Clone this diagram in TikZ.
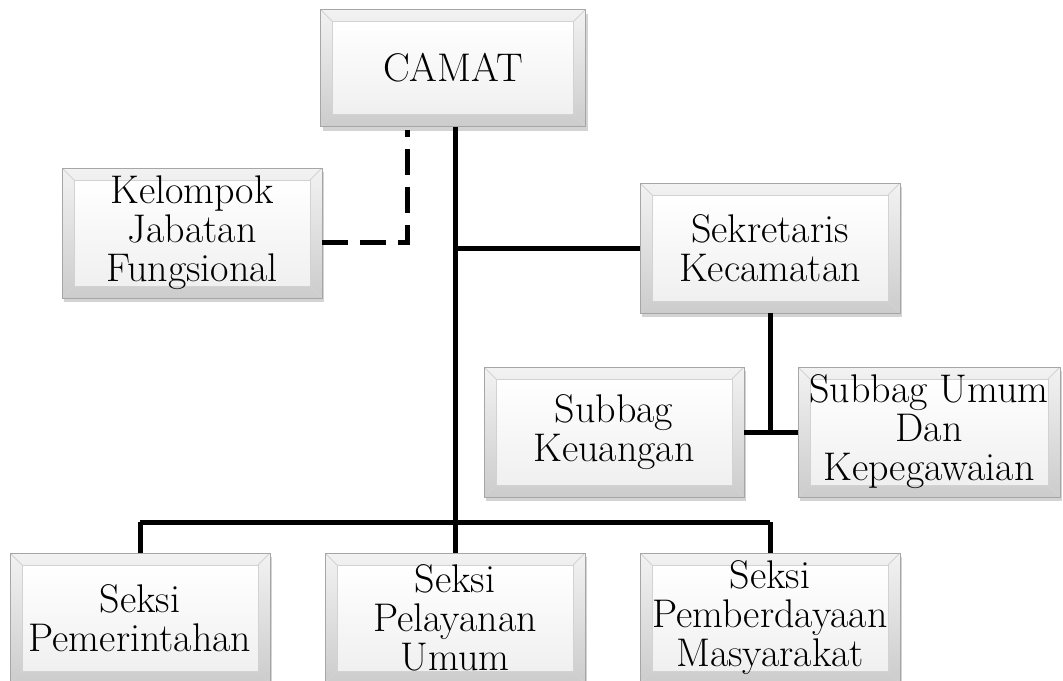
\documentclass[tikz,border=0pt]{standalone}
\usetikzlibrary{shadows}
\begin{document}
\begin{tikzpicture}[x=0.5pt,y=-0.5pt,
 unit/.style={draw=gray!70,top color=gray!10,bottom color=gray!40,
  minimum width=130pt,minimum height=65pt,inner sep=0pt,align=center,
  font=\fontsize{20}{19.5}\selectfont,
  drop shadow={shadow xshift=1.2pt,shadow yshift=-2pt,opacity=0.35},
  path picture={
   \coordinate (bsw) at (path picture bounding box.south west);
   \coordinate (bne) at (path picture bounding box.north east);
   \coordinate (bnw) at (path picture bounding box.north west);
   \coordinate (bse) at (path picture bounding box.south east);
   \shade[top color=white,bottom color=gray!12,draw=gray!35]
    ([shift={(6pt,6pt)}]bsw) rectangle ([shift={(-6pt,-6pt)}]bne);
   \draw[gray!35] (bsw) -- ++(6pt,6pt) (bse) -- ++(-6pt,6pt)
    (bnw) -- ++(6pt,-6pt) (bne) -- ++(-6pt,-6pt);}},
 link/.style={line width=2.5pt},
 staff/.style={line width=2.5pt,dash pattern=on 13pt off 6pt}]
\useasboundingbox (0,0) rectangle (1063,680);
\node[unit,minimum width=132.5pt,minimum height=58.5pt] (camat) at (453,68) {CAMAT};
\node[unit] (kjf) at (192,233) {Kelompok\\Jabatan\\Fungsional};
\node[unit] (sekcam) at (770,248) {Sekretaris\\Kecamatan};
\node[unit] (keu) at (614,432) {Subbag\\Keuangan};
\node[unit,minimum width=131pt] (umum) at (929,432) {Subbag Umum\\Dan\\Kepegawaian};
\node[unit] (pemer) at (140,618) {Seksi\\Pemerintahan};
\node[unit] (yanum) at (455,618) {Seksi\\Pelayanan\\Umum};
\node[unit] (masy) at (770,618) {Seksi\\Pemberdayaan\\Masyarakat};
\coordinate (bus) at (455,522);
\coordinate (dtop) at (407,130);
% lines from the camat
\draw[link] (camat.south -| bus) -- (bus);
\draw[link] (pemer.north |- bus) -- (masy.north |- bus);
\draw[link] (pemer.north |- bus) -- (pemer.north);
\draw[link] (yanum.north |- bus) -- (yanum.north);
\draw[link] (masy.north |- bus) -- (masy.north);
\draw[link] (bus |- sekcam.west) -- (sekcam.west);
\draw[staff] ([yshift=-4.5pt]kjf.east) -| (dtop);
% subbag
\draw[link] (sekcam.south) -- (sekcam.south |- keu.east);
\draw[link] (keu.east) -- (umum.west);
\end{tikzpicture}
\end{document}
